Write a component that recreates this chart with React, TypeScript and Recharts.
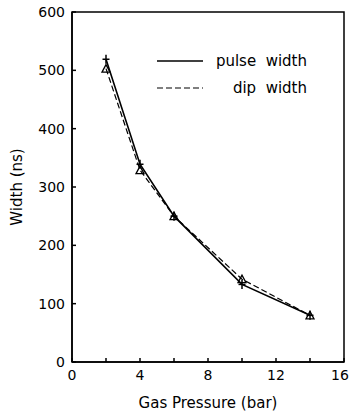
import React from 'react';
import { LineChart, Line, XAxis, YAxis, ReferenceArea, Label } from 'recharts';

const pressure = [2, 4, 6, 10, 14];
const pulseWidth = [519, 339, 250, 133, 80];
const dipWidth = [503, 329, 250, 142, 80];
const xTicks = [0, 2, 4, 6, 8, 10, 12, 14, 16];
const yTicks = [0, 100, 200, 300, 400, 500, 600];

const data = pressure.map((p, i) => ({ p, pulse: pulseWidth[i], dip: dipWidth[i] }));

const FONT = '"DejaVu Sans", Verdana, sans-serif';

const Cross = (props: any) => {
  const { cx, cy } = props;
  if (cx == null || cy == null) return null;
  return (
    <g stroke="#000" strokeWidth={1.5}>
      <line x1={cx - 3.5} y1={cy} x2={cx + 3.5} y2={cy} />
      <line x1={cx} y1={cy - 4.5} x2={cx} y2={cy + 4.5} />
    </g>
  );
};

const Tri = (props: any) => {
  const { cx, cy } = props;
  if (cx == null || cy == null) return null;
  return (
    <polygon
      points={`${cx},${cy - 4} ${cx - 4},${cy + 3.5} ${cx + 4},${cy + 3.5}`}
      fill="none"
      stroke="#000"
      strokeWidth={1.3}
    />
  );
};

const XTick = (props: any) => {
  const { x, y, payload } = props;
  const v = payload.value as number;
  if (v % 4 !== 0) return null;
  const shift = v === 16 ? -3 : 0;
  return (
    <text x={x + shift} y={y} dy="0.71em" textAnchor="middle" fill="#000" fontSize={14} fontFamily={FONT}>
      {String(v)}
    </text>
  );
};

const LegendBox = () => (
  <div style={{ fontFamily: FONT, fontSize: 15, color: '#000', position: 'absolute', left: 157, top: 53, width: 150, height: 50 }}>
    <svg width={50} height={50} style={{ position: 'absolute', left: 0, top: 0 }}>
      <line x1={0} y1={8} x2={46} y2={8} stroke="#000" strokeWidth={1.5} />
      <line x1={0} y1={35} x2={46} y2={35} stroke="#000" strokeWidth={1.2} strokeDasharray="6 3" />
    </svg>
    <div style={{ position: 'absolute', right: 0, top: 0, whiteSpace: 'nowrap', lineHeight: '16px' }}>pulse&nbsp; width</div>
    <div style={{ position: 'absolute', right: 0, top: 27, whiteSpace: 'nowrap', lineHeight: '16px' }}>dip&nbsp; width</div>
  </div>
);

export default function App() {
  return (
    <div style={{ position: 'fixed', left: 0, top: 0, width: 351, height: 418, background: '#fff', overflow: 'hidden' }}>
      <LineChart
        width={351}
        height={418}
        data={data}
        margin={{ top: 12, right: 7, left: 0, bottom: 0 }}
        style={{ fontFamily: FONT }}
      >
        <XAxis
          dataKey="p"
          type="number"
          domain={[0, 16]}
          ticks={xTicks}
          tick={<XTick />}
          tickSize={-4}
          tickMargin={12}
          height={56}
          stroke="#000"
          strokeWidth={1.5}
        >
          <Label value="Gas Pressure (bar)" position="insideBottom" offset={10} style={{ fill: '#000', fontSize: 15, fontFamily: FONT }} />
        </XAxis>
        <YAxis
          type="number"
          domain={[0, 600]}
          ticks={yTicks}
          tickSize={-4}
          tickMargin={11}
          width={72}
          stroke="#000"
          strokeWidth={1.5}
          tick={{ fill: '#000', fontSize: 14, fontFamily: FONT }}
        >
          <Label value="Width (ns)" angle={-90} position="insideLeft" offset={17} style={{ fill: '#000', fontSize: 15, fontFamily: FONT, textAnchor: 'middle' }} />
        </YAxis>
        <ReferenceArea x1={0} x2={16} y1={0} y2={600} fill="none" stroke="#000" strokeWidth={1.5} ifOverflow="visible" />
        <Line dataKey="pulse" stroke="#000" strokeWidth={1.6} dot={<Cross />} isAnimationActive={false} />
        <Line dataKey="dip" stroke="#000" strokeWidth={1.2} strokeDasharray="6 3" dot={<Tri />} isAnimationActive={false} />
      </LineChart>
      <LegendBox />
    </div>
  );
}
